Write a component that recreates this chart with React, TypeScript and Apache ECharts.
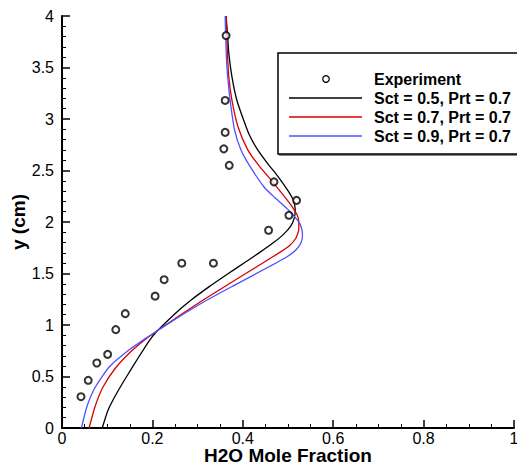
import React, { useEffect, useRef } from "react";
import * as echarts from "echarts";

// Experiment (H2O mole fraction vs y)
const expX = [0.363, 0.361, 0.361, 0.358, 0.370, 0.469, 0.519, 0.502, 0.457, 0.335, 0.265, 0.226, 0.206, 0.140, 0.119, 0.101, 0.077, 0.058, 0.042];
const expY = [3.81, 3.18, 2.87, 2.71, 2.55, 2.39, 2.21, 2.065, 1.92, 1.60, 1.60, 1.44, 1.28, 1.11, 0.955, 0.715, 0.631, 0.463, 0.304];

// Sct = 0.5, Prt = 0.7
const s05Y = [0, 0.175, 0.337, 0.50, 0.677, 0.854, 0.935, 1.11, 1.24, 1.37, 1.50, 1.60, 1.70, 1.80, 1.88, 1.96, 2.04, 2.12, 2.21, 2.29, 2.38, 2.47, 2.55, 2.70, 2.85, 3.00, 3.18, 3.41, 3.64, 3.83, 4.0];
const s05X = [0.089, 0.102, 0.121, 0.143, 0.168, 0.194, 0.209, 0.250, 0.285, 0.325, 0.368, 0.402, 0.436, 0.468, 0.490, 0.506, 0.514, 0.516, 0.512, 0.502, 0.488, 0.473, 0.458, 0.433, 0.414, 0.401, 0.387, 0.376, 0.369, 0.366, 0.363];

// Sct = 0.7, Prt = 0.7
const s07Y = [0, 0.207, 0.40, 0.58, 0.74, 0.86, 0.93, 1.08, 1.23, 1.40, 1.58, 1.70, 1.77, 1.84, 1.93, 2.00, 2.07, 2.18, 2.28, 2.38, 2.54, 2.70, 2.93, 3.18, 3.41, 3.64, 4.0];
const s07X = [0.060, 0.073, 0.091, 0.118, 0.152, 0.184, 0.206, 0.256, 0.308, 0.370, 0.436, 0.480, 0.503, 0.517, 0.524, 0.524, 0.520, 0.504, 0.486, 0.468, 0.437, 0.411, 0.389, 0.376, 0.369, 0.366, 0.363];

// Sct = 0.9, Prt = 0.7
const s09Y = [0, 0.207, 0.40, 0.595, 0.757, 0.87, 0.93, 1.05, 1.24, 1.39, 1.57, 1.66, 1.73, 1.80, 1.87, 1.94, 2.00, 2.13, 2.24, 2.34, 2.54, 2.70, 2.89, 3.18, 3.44, 3.67, 4.0];
const s09X = [0.043, 0.055, 0.074, 0.105, 0.148, 0.185, 0.206, 0.248, 0.320, 0.383, 0.460, 0.497, 0.518, 0.529, 0.532, 0.530, 0.524, 0.498, 0.470, 0.447, 0.416, 0.396, 0.382, 0.372, 0.366, 0.363, 0.361];

const seriesNames = ["Experiment", "Sct = 0.5, Prt = 0.7", "Sct = 0.7, Prt = 0.7", "Sct = 0.9, Prt = 0.7"];
const lineColors = ["#000000", "#d80000", "#5050ff"];

const FONT = '"Liberation Sans", Arial, Helvetica, sans-serif';

const pairs = (xs: number[], ys: number[]) => xs.map((x, i) => [x, ys[i]]);

export default function App() {
  const ref = useRef<HTMLDivElement>(null);
  useEffect(() => {
    const chart = echarts.init(ref.current!, null, { renderer: "svg" });
    const axisCommon = {
      type: "value" as const,
      axisLine: { show: true, onZero: false, lineStyle: { color: "#000", width: 2 } },
      axisTick: { show: true, inside: true, length: 8, lineStyle: { color: "#000", width: 1.5 } },
      minorTick: { show: true, splitNumber: 4, length: 4, lineStyle: { color: "#000", width: 1 } },
      splitLine: { show: false },
      minorSplitLine: { show: false },
      axisLabel: { color: "#000", fontSize: 16, fontFamily: FONT },
      nameMoveOverlap: false,
      nameTextStyle: { color: "#000", fontSize: 19, lineHeight: 19, fontWeight: "bold", fontFamily: FONT },
    };
    const legendX = 278;
    const legendY = 53;
    const rows = [79, 98, 117, 136];
    const lineSeries = (name: string, xs: number[], ys: number[], color: string) => ({
      name,
      type: "line",
      data: pairs(xs, ys),
      smooth: 0.2,
      showSymbol: false,
      symbol: "none",
      clip: false,
      lineStyle: { color, width: 1.3 },
    });
    chart.setOption({
      animation: false,
      backgroundColor: "#fff",
      grid: { left: 62, right: 3, top: 16, bottom: 42, containLabel: false, outerBoundsMode: "none" },
      xAxis: {
        ...axisCommon,
        min: 0,
        max: 1,
        interval: 0.2,
        name: "H2O Mole Fraction",
        nameLocation: "middle",
        nameGap: 18,
        axisLabel: { ...axisCommon.axisLabel, margin: 3, lineHeight: 15 },
      },
      yAxis: {
        ...axisCommon,
        min: 0,
        max: 4,
        interval: 0.5,
        minorTick: { ...axisCommon.minorTick, splitNumber: 5 },
        name: "y (cm)",
        nameLocation: "middle",
        nameGap: 34,
        axisLabel: { ...axisCommon.axisLabel, margin: 8 },
      },
      series: [
        lineSeries(seriesNames[1], s05X, s05Y, lineColors[0]),
        lineSeries(seriesNames[2], s07X, s07Y, lineColors[1]),
        lineSeries(seriesNames[3], s09X, s09Y, lineColors[2]),
        {
          name: seriesNames[0],
          type: "scatter",
          data: pairs(expX, expY),
          symbol: "emptyCircle",
          symbolSize: 7,
          z: 5,
          itemStyle: { color: "#000", borderColor: "#000", borderWidth: 1.2 },
        },
      ],
      graphic: [
        {
          type: "rect",
          shape: { x: legendX + 1, y: legendY + 2, width: 245, height: 101 },
          style: { fill: "#888", stroke: "none" },
          z: 10,
        },
        {
          type: "rect",
          shape: { x: legendX, y: legendY, width: 245, height: 101 },
          style: { fill: "#fff", stroke: "#000", lineWidth: 1.5 },
          z: 11,
        },
        {
          type: "circle",
          shape: { cx: 326, cy: rows[0], r: 3.3 },
          style: { fill: "#fff", stroke: "#000", lineWidth: 1.2 },
          z: 12,
        },
        ...[1, 2, 3].map((i) => ({
          type: "line",
          shape: { x1: 289, y1: rows[i], x2: 362, y2: rows[i] },
          style: { stroke: lineColors[i - 1], lineWidth: 1.5 },
          z: 12,
        })),
        ...seriesNames.map((n, i) => ({
          type: "text",
          x: 374,
          y: rows[i],
          style: {
            text: n,
            fill: "#000",
            font: `bold 16px ${FONT}`,
            verticalAlign: "middle",
            align: "left",
          },
          z: 12,
        })),
      ],
    });
    return () => chart.dispose();
  }, []);
  return (
    <div
      ref={ref}
      style={{ position: "absolute", left: 0, top: 0, width: 517, height: 470, background: "#fff" }}
    />
  );
}
